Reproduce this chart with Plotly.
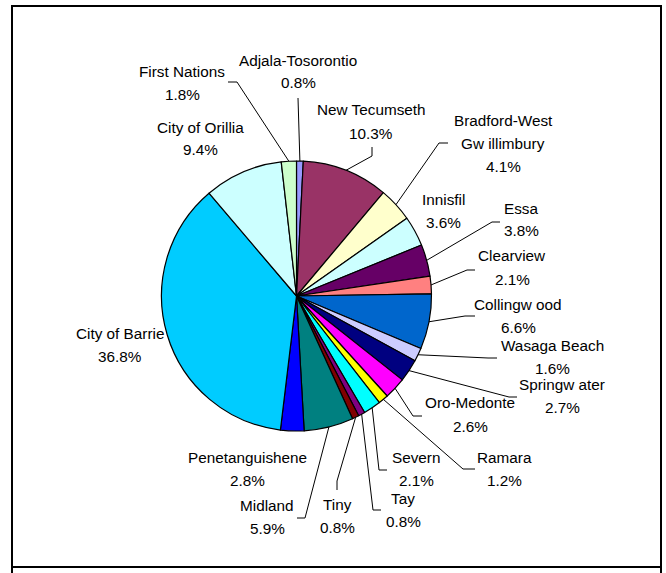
import math
import plotly.graph_objects as go

# Share of population by municipality (percent), clockwise from 12 o'clock
municipalities = [
    "Adjala-Tosorontio", "New Tecumseth", "Bradford-West\nGw illimbury", "Innisfil",
    "Essa", "Clearview", "Collingw ood", "Wasaga Beach", "Springw ater",
    "Oro-Medonte", "Ramara", "Severn", "Tay", "Tiny", "Midland",
    "Penetanguishene", "City of Barrie", "City of Orillia", "First Nations",
]
shares = [0.8, 10.3, 4.1, 3.6, 3.8, 2.1, 6.6, 1.6, 2.7, 2.6, 1.2, 2.1, 0.8, 0.8,
          5.9, 2.8, 36.8, 9.4, 1.8]
slice_colors = [
    "#9999FF", "#993366", "#FFFFCC", "#CCFFFF", "#660066", "#FF8080", "#0066CC",
    "#CCCCFF", "#000080", "#FF00FF", "#FFFF00", "#00FFFF", "#800080", "#800000",
    "#008080", "#0000FF", "#00CCFF", "#CCFFFF", "#CCFFCC",
]

# ---- page geometry (pixels) ----
W, H = 666, 573
CX, CY, R = 296.5, 296.0, 135.0
LINE_GAP = 23
FONT = dict(family="Liberation Sans, Arial, sans-serif", size=15.3, color="black")

# label block centre of first line, plus leader bend/end points (None = no leader)
label_place = {
    "Adjala-Tosorontio": ((298, 60), [(298, 98)]),
    "New Tecumseth": ((371, 110), [(372, 156), (372, 147)]),
    "Bradford-West\nGw illimbury": ((503, 120), [(439, 143), (448, 143)]),
    "Innisfil": ((443, 199), None),
    "Essa": ((521, 208), [(492, 222), (500, 222)]),
    "Clearview": ((512, 256), [(467, 270), (475, 270)]),
    "Collingw ood": ((518, 304), [(465, 316), (475, 316)]),
    "Wasaga Beach": ((552, 345), [(488, 358), (497, 358)]),
    "Springw ater": ((562, 384), [(509, 397), (517, 397)]),
    "Oro-Medonte": ((470, 403), [(413, 416), (422, 416)]),
    "Ramara": ((504, 457), [(463, 469), (475, 469)]),
    "Severn": ((416, 457), [(379, 470), (387, 470)]),
    "Tay": ((403, 498), [(373, 510), (381, 510)]),
    "Tiny": ((337, 504), [(337, 481), (337, 490)]),
    "Midland": ((267, 505), [(305, 518), (297, 518)]),
    "Penetanguishene": ((247, 457), None),
    "City of Barrie": ((120, 333), None),
    "City of Orillia": ((200, 127), None),
    "First Nations": ((182, 71), [(237, 82), (228, 82)]),
}


def px(x):
    return x / W


def py(y):
    return 1 - y / H


fig = go.Figure()
fig.add_trace(go.Pie(
    labels=[m.replace("\n", " ") for m in municipalities],
    values=shares,
    sort=False,
    direction="clockwise",
    rotation=0,
    textinfo="none",
    hoverinfo="label+percent",
    showlegend=False,
    marker=dict(colors=slice_colors, line=dict(color="black", width=1.2)),
    domain=dict(x=[px(CX - R), px(CX + R)], y=[py(CY + R), py(CY - R)]),
))

shapes = []
annotations = []
total = sum(shares)
cum = 0.0
for name, val in zip(municipalities, shares):
    mid = (cum + val / 2) / total
    cum += val
    theta = 2 * math.pi * mid
    edge = (CX + R * math.sin(theta), CY - R * math.cos(theta))
    (lx, ly), leader = label_place[name]

    lines = name.split("\n") + [f"{val:.1f}%"]
    for i, txt in enumerate(lines):
        annotations.append(dict(
            x=px(lx), y=py(ly + i * LINE_GAP), xref="paper", yref="paper",
            text=txt, showarrow=False, font=FONT,
            xanchor="center", yanchor="middle",
        ))

    if leader:
        pts = [edge] + leader
        for (x0, y0), (x1, y1) in zip(pts[:-1], pts[1:]):
            shapes.append(dict(
                type="line", xref="paper", yref="paper",
                x0=px(x0), y0=py(y0), x1=px(x1), y1=py(y1),
                line=dict(color="black", width=1),
            ))

# chart frame
shapes.append(dict(type="rect", xref="paper", yref="paper",
                   x0=px(12), y0=py(567), x1=px(661), y1=py(6),
                   line=dict(color="black", width=2)))
for fx in (12, 661):
    shapes.append(dict(type="line", xref="paper", yref="paper",
                       x0=px(fx), y0=py(567), x1=px(fx), y1=py(575),
                       line=dict(color="black", width=2)))

fig.update_layout(
    width=W, height=H,
    margin=dict(l=0, r=0, t=0, b=0),
    paper_bgcolor="white", plot_bgcolor="white",
    shapes=shapes, annotations=annotations,
)

fig.write_html("out.html")
